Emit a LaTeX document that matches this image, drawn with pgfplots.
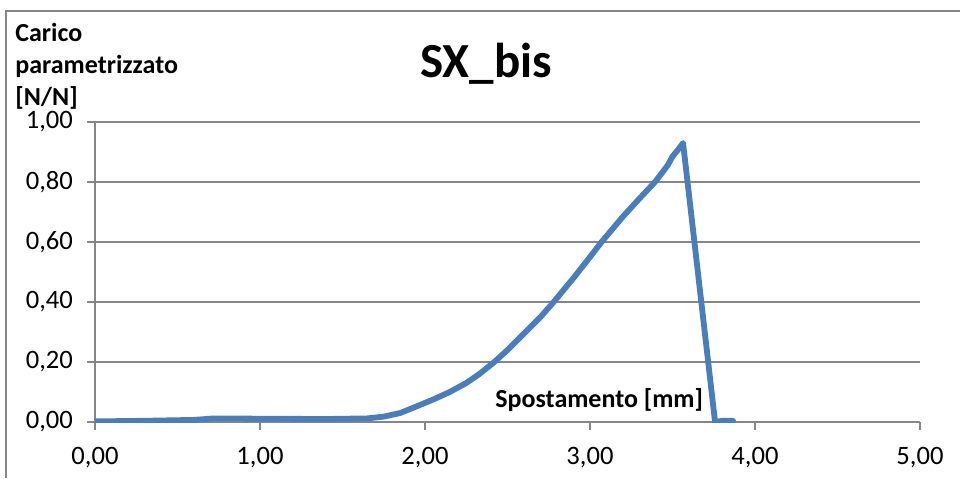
\documentclass[border=0pt]{standalone}
\usepackage{pgfplots}
\pgfplotsset{compat=1.18}
\usepackage{fontspec}
\setmainfont{Carlito}
\definecolor{xlblue}{RGB}{74,126,187}
\definecolor{xlgray}{RGB}{134,134,134}
\begin{document}
\begin{tikzpicture}
\useasboundingbox (-47.5pt,-28pt) rectangle (432.5pt,211pt);
\draw[xlgray, line width=0.75pt] (-44.5pt,-28pt) -- (-44.5pt,205.5pt) -- (432.5pt,205.5pt);
\begin{axis}[
  at={(0pt,0pt)}, anchor=south west,
  width=412.5pt, height=150pt, scale only axis,
  xmin=0, xmax=5, ymin=0, ymax=1,
  axis lines*=left,
  axis line style={xlgray, line width=0.75pt},
  xtick={0,1,2,3,4,5}, ytick={0,0.2,0.4,0.6,0.8,1},
  ymajorgrids, grid style={xlgray, line width=0.75pt},
  tick align=outside, major tick length=4pt,
  tick style={xlgray, line width=0.75pt},
  ticklabel style={font=\fontsize{13.3}{16}\selectfont},
  yticklabel style={xshift=-3.5pt},
  xticklabel style={yshift=-5pt},
  /pgf/number format/.cd, fixed, fixed zerofill, precision=2, use comma, assume math mode=true,
]
\addplot[xlblue, line width=2.9pt, line join=round, line cap=round] coordinates {
(0,0.002) (0.3,0.004) (0.6,0.007) (0.72,0.012) (1.0,0.011) (1.4,0.010)
(1.65,0.012) (1.75,0.018) (1.85,0.03) (1.94,0.05) (2.05,0.075) (2.15,0.10)
(2.25,0.13) (2.33,0.16) (2.42,0.20) (2.5,0.24) (2.6,0.295) (2.7,0.35)
(2.78,0.40) (2.9,0.48) (3.0,0.55) (3.07,0.60) (3.2,0.685) (3.3,0.745)
(3.394,0.80) (3.47,0.855) (3.50,0.885) (3.53,0.905) (3.564,0.93)
(3.758,0.0) (3.80,0.004) (3.867,0.004)
};
\end{axis}
\node[anchor=center, font=\fontsize{24.5}{29}\selectfont\bfseries] at (195.5pt,179pt) {SX\_bis};
\node[anchor=base west, inner sep=0pt, font=\fontsize{13}{16}\selectfont\bfseries] at (-40pt,190.5pt) {Carico};
\node[anchor=base west, inner sep=0pt, font=\fontsize{13}{16}\selectfont\bfseries] at (-40pt,174.5pt) {parametrizzato};
\node[anchor=base west, inner sep=0pt, font=\fontsize{13}{16}\selectfont\bfseries] at (-40pt,158.5pt) {[N/N]};
\node[anchor=base west, inner sep=0pt, font=\fontsize{13}{16}\selectfont\bfseries] at (200pt,7.5pt) {Spostamento [mm]};
\end{tikzpicture}
\end{document}
